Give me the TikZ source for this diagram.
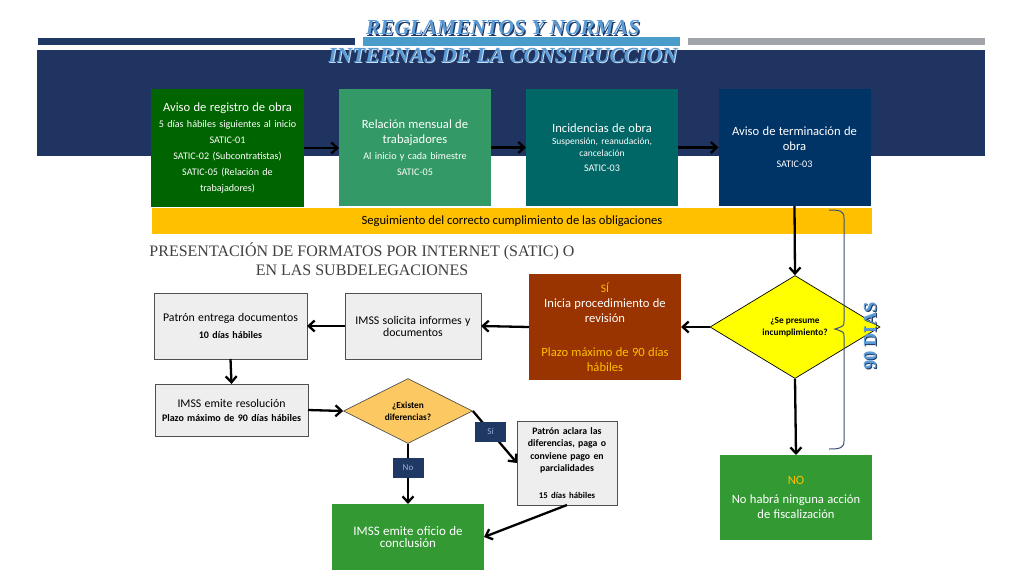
\documentclass[tikz,border=0pt]{standalone}
\usepackage{fontspec}
\setmainfont{Carlito}
\newfontfamily\serf{Liberation Serif}
\usetikzlibrary{shapes.geometric,arrows.meta}
\definecolor{navyband}{HTML}{1F3461}
\definecolor{barnavy}{HTML}{1F3864}
\definecolor{barblue}{HTML}{4A9CCB}
\definecolor{bargray}{HTML}{A0A4A8}
\definecolor{gdark}{HTML}{006400}
\definecolor{gmed}{HTML}{339966}
\definecolor{teal}{HTML}{006666}
\definecolor{bnavy}{HTML}{003366}
\definecolor{ybar}{HTML}{FFC000}
\definecolor{brown}{HTML}{993300}
\definecolor{ygold}{HTML}{FFC000}
\definecolor{dyel}{HTML}{FFFF00}
\definecolor{dorange}{HTML}{FCC862}
\definecolor{gbox}{HTML}{339933}
\definecolor{graybox}{HTML}{EEEEEE}
\definecolor{grayline}{HTML}{505050}
\definecolor{titblue}{HTML}{5B9BD5}
\definecolor{titdark}{HTML}{1F3864}
\definecolor{titlight}{HTML}{C9DDF0}
\definecolor{bracec}{HTML}{3D4F7A}
\definecolor{labtext}{HTML}{9DB3D8}
\definecolor{txtgray}{HTML}{404040}
\begin{document}
\begin{tikzpicture}[x=1pt,y=-1pt,
  box/.style={rectangle, inner sep=2pt, outer sep=0pt, align=center, text=white},
  gbx/.style={box, fill=graybox, draw=grayline, line width=0.8pt, text=black},
  arr/.style={draw=black, line width=2.3pt, -{Straight Barb[length=6pt,width=11pt]}},
  lab/.style={rectangle, fill=barnavy, text=labtext, minimum width=31pt, minimum height=20pt, inner sep=1pt, font=\fontsize{9}{10}\selectfont},
]
\useasboundingbox (0,0) rectangle (1024,576);
\fill[white] (0,0) rectangle (1024,576);
% top bars
\fill[barnavy] (38,38) rectangle (355,45);
\fill[barblue] (363,37) rectangle (680,46);
\fill[bargray] (688,38) rectangle (985,45);
\fill[navyband] (37,50) rectangle (985,156);
% titles
\node[font=\serf\bfseries\itshape\fontsize{21.4}{24}\selectfont, text=titdark] (t1s) at (504.2,29.2) {REGLAMENTOS Y NORMAS};
\node[font=\serf\bfseries\itshape\fontsize{21.4}{24}\selectfont, text=titblue] (t1) at (503,28) {REGLAMENTOS Y NORMAS};
\node[font=\serf\bfseries\itshape\fontsize{21.5}{24}\selectfont, text=titlight] (t2s) at (504,56) {INTERNAS DE LA CONSTRUCCION};
\node[font=\serf\bfseries\itshape\fontsize{21.5}{24}\selectfont, text=titblue] (t2) at (503,55) {INTERNAS DE LA CONSTRUCCION};
% top boxes
\node[box, fill=gdark, minimum width=151pt, minimum height=118pt, text width=149pt] (b1) at (227.5,148)
 {\fontsize{12.6}{15}\selectfont Aviso de registro de obra\par
  \fontsize{10.1}{16}\selectfont 5 días hábiles siguientes al inicio\\ SATIC-01\\ SATIC-02 (Subcontratistas)\\ SATIC-05 (Relación de\\ trabajadores)\par};
\node[box, fill=gmed, minimum width=152pt, minimum height=117pt, text width=140pt] (b2) at (415,147.5)
 {\fontsize{12.6}{15}\selectfont Relación mensual de\\ trabajadores\par
  \fontsize{10.1}{16}\selectfont Al inicio y cada bimestre\\ SATIC-05\par};
\node[box, fill=teal, minimum width=152pt, minimum height=117pt, text width=140pt] (b3) at (602,147.5)
 {\fontsize{12.6}{17}\selectfont Incidencias de obra\par
  \fontsize{9.5}{12}\selectfont Suspensión, reanudación,\\ cancelación\par
  \fontsize{10.1}{15}\selectfont SATIC-03\par};
\node[box, fill=bnavy, minimum width=152pt, minimum height=117pt, text width=140pt] (b4) at (794.5,147.5)
 {\fontsize{12.6}{15}\selectfont Aviso de terminación de\\ obra\par
  \fontsize{10.1}{17}\selectfont SATIC-03\par};
\draw[arr] (b1.east) -- (b1.east -| b2.west);
\draw[arr] (b2.east) -- (b3.west);
\draw[arr] (b3.east) -- (b4.west);
% yellow band
\node[box, fill=ybar, text=black, minimum width=720pt, minimum height=26pt, font=\fontsize{12.6}{14}\selectfont] (yb) at (512,221)
 {Seguimiento del correcto cumplimiento de las obligaciones};
% heading text
\node[font=\serf\fontsize{16}{19}\selectfont, text=txtgray, align=center] (pres) at (362,259.5)
 {PRESENTACIÓN DE FORMATOS POR INTERNET (SATIC) O\\ EN LAS SUBDELEGACIONES};
% diamond 1
\node[diamond, fill=dyel, draw=black, line width=0.7pt, minimum width=170pt, minimum height=103pt, inner sep=0pt, align=center, font=\bfseries\fontsize{9.3}{12}\selectfont] (d1) at (795,327)
 {¿Se presume\\ incumplimiento?};
\draw[arr] (b4.south) -- (d1.north);
% SI box
\node[box, fill=brown, minimum width=152pt, minimum height=106pt, text width=148pt] (sib) at (605,327)
 {\fontsize{11.5}{15}\selectfont\color{ygold} SÍ\par
  \fontsize{12.6}{15}\selectfont\color{white} Inicia procedimiento de\\ revisión\par\vspace{19pt}
  \color{ygold} Plazo máximo de 90 días\\ hábiles\par};
\draw[arr] (d1.west) -- (sib.east);
% gray boxes
\node[gbx, minimum width=136pt, minimum height=66pt, text width=132pt] (sol) at (413,326)
 {\fontsize{11.8}{13.5}\selectfont IMSS solicita informes y\\ documentos};
\draw[arr] (sib.west) -- (sol.east);
\node[gbx, minimum width=153pt, minimum height=66pt, text width=149pt] (pe) at (230.5,326)
 {\fontsize{11.8}{14}\selectfont Patrón entrega documentos\par
  \bfseries\fontsize{10}{17}\selectfont 10 días hábiles\par};
\draw[arr] (sol.west) -- (pe.east);
\node[gbx, minimum width=153pt, minimum height=52pt, text width=149pt] (res) at (231.5,410)
 {\fontsize{11.8}{14}\selectfont IMSS emite resolución\par
  \bfseries\fontsize{10}{14}\selectfont Plazo máximo de 90 días hábiles\par};
\draw[arr] (pe.south) -- (res.north);
% diamond 2
\node[diamond, fill=dorange, draw=grayline, line width=0.7pt, minimum width=129pt, minimum height=65pt, inner sep=0pt, align=center, font=\bfseries\fontsize{9.3}{12}\selectfont] (d2) at (408,411)
 {¿Existen\\ diferencias?};
\draw[arr] (res.east) -- (d2.west);
\node[gbx, minimum width=98pt, minimum height=84pt, text width=96pt] (pa) at (567,463)
 {\bfseries\fontsize{9.8}{12.5}\selectfont Patrón aclara las\\ diferencias, paga o\\ conviene pago en\\ parcialidades\par
  \fontsize{8.8}{27}\selectfont 15 días hábiles\par};
\node[box, fill=gbox, minimum width=152pt, minimum height=66pt, text width=140pt] (of) at (408,537)
 {\fontsize{13}{15}\selectfont IMSS emite oficio de\\ conclusión};
\draw[arr] (d2.east) -- node[lab, pos=0.4] (labsi) {Sí} (pa.west);
\draw[arr] (d2.south) -- node[lab, pos=0.4] (labno) {No} (of.north);
\draw[arr] (pa.south) -- (of.east);
% NO box
\node[box, fill=gbox, minimum width=152pt, minimum height=85pt, text width=148pt] (no) at (796,497.5)
 {\fontsize{12.6}{15}\selectfont\color{ygold} NO\par
  \color{white}\fontsize{12.6}{19}\selectfont No habrá ninguna acción\par\fontsize{12.6}{15}\selectfont de fiscalización\par};
\draw[arr] (d1.south) -- (no.north);
% brace
\coordinate (brt) at (829,210);
\coordinate (brb) at (829,449);
\coordinate (brm) at (835,329);
\draw[bracec, line width=1pt] (brt) .. controls (840,210) and (844,211) .. (844,218) -- (844,321)
  .. controls (844,326) .. (brm) .. controls (844,332) .. (844,337) -- (844,441)
  .. controls (844,448) and (840,449) .. (brb);
% 90 DIAS
\node[rotate=90, font=\serf\bfseries\fontsize{18.5}{20}\selectfont, text=titdark] (d90s) at (871,336.8) {90 DIAS};
\node[rotate=90, font=\serf\bfseries\fontsize{18.5}{20}\selectfont, text=titblue] (d90) at (870,336) {90 DIAS};
\end{tikzpicture}
\end{document}
